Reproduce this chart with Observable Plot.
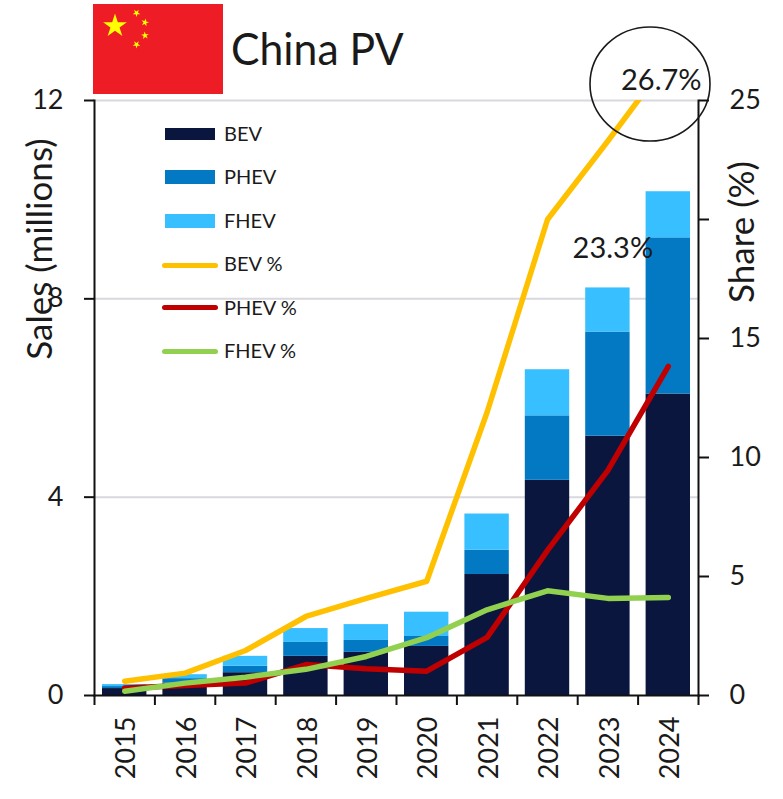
<!DOCTYPE html>
<html>
<head>
<meta charset="utf-8">
<script src="https://cdn.jsdelivr.net/npm/d3@7"></script>
<script src="https://cdn.jsdelivr.net/npm/@observablehq/plot@0.6"></script>
<style>
  html, body { margin: 0; padding: 0; background: #fff; }
  #page { position: relative; width: 783px; height: 799px; overflow: hidden; font-family: Lato, sans-serif; color: #1a1a1a; }
  #page > * { position: absolute; }
  #chart { left: 0; top: 0; }
  #title { left: 231px; top: 20px; font-size: 44px; line-height: 56px; white-space: nowrap; transform: scaleX(0.97); transform-origin: left center; }
  .legend-label { font-size: 20px; line-height: 22px; white-space: nowrap; }
  .swatch { left: 165px; width: 50px; }
  .legend-line { left: 162px; width: 56px; height: 5px; border-radius: 3px; }
</style>
</head>
<body>
<div id="page"></div>
<script>
// Annual passenger-vehicle sales in China (millions) and market share (%)
const years = ["2015", "2016", "2017", "2018", "2019", "2020", "2021", "2022", "2023", "2024"];

const bevSales = [0.14, 0.25, 0.46, 0.79, 0.87, 0.99, 2.44, 4.34, 5.23, 6.08];
const phevSales = [0.04, 0.09, 0.13, 0.28, 0.24, 0.20, 0.49, 1.30, 2.10, 3.15];
const fhevSales = [0.04, 0.08, 0.20, 0.28, 0.32, 0.49, 0.73, 0.93, 0.89, 0.93];

const bevShare = [0.6, 0.94, 1.89, 3.32, 4.08, 4.8, 11.9, 20.0, 23.3, 26.7];
const phevShare = [0.32, 0.42, 0.52, 1.3, 1.12, 1.02, 2.44, 6.1, 9.46, 13.83];
const fhevShare = [0.18, 0.52, 0.77, 1.1, 1.64, 2.43, 3.6, 4.4, 4.08, 4.12];

const salesTicks = [0, 4, 8, 12];
const shareTicks = [0, 5, 10, 15, 20, 25];

const colors = {BEV: "#0b163f", PHEV: "#0279c2", FHEV: "#38bfff", "BEV %": "#ffc000", "PHEV %": "#c00000", "FHEV %": "#92d050"};

// The share axis runs 0-25 against sales 0-12 on the same vertical extent
const shareToSales = (s) => (s * 12) / 25;

const stacked = [
  ...years.map((year, i) => ({year, kind: "BEV", value: bevSales[i]})),
  ...years.map((year, i) => ({year, kind: "PHEV", value: phevSales[i]})),
  ...years.map((year, i) => ({year, kind: "FHEV", value: fhevSales[i]}))
];

const shareLine = (values, color) =>
  Plot.line(years.map((year, i) => ({year, share: values[i]})), {
    x: "year",
    y: (d) => shareToSales(d.share),
    stroke: color,
    strokeWidth: 5.5,
    strokeLinejoin: "round",
    strokeLinecap: "round",
    clip: true
  });

const shareLabel = (year, dx, dy) => {
  const share = bevShare[years.indexOf(year)];
  return Plot.text([{year, share}], {
    x: "year",
    y: (d) => shareToSales(d.share),
    text: (d) => d.share.toFixed(1) + "%",
    dx,
    dy,
    fontSize: 29,
    fill: "#1a1a1a"
  });
};

const halfStep = 30.2;
const axisStyle = {stroke: "#111", strokeWidth: 2};
const tickFont = {fontSize: 27, fill: "#1a1a1a"};

const chart = Plot.plot({
  width: 783,
  height: 799,
  marginLeft: 94,
  marginRight: 85,
  marginTop: 100,
  marginBottom: 104,
  style: {fontFamily: "Lato, sans-serif", background: "transparent"},
  x: {type: "band", domain: years, padding: 0, round: false},
  y: {domain: [0, 12], range: [695, 100]},
  marks: [
    Plot.gridY(salesTicks.slice(1), {stroke: "#d8d8de", strokeOpacity: 1, strokeWidth: 2}),
    Plot.barY(stacked, {
      x: "year",
      y: "value",
      fill: (d) => colors[d.kind],
      insetLeft: 8,
      insetRight: 8,
      order: null
    }),
    shareLine(bevShare, colors["BEV %"]),
    shareLine(phevShare, colors["PHEV %"]),
    shareLine(fhevShare, colors["FHEV %"]),
    Plot.frame({anchor: "left", ...axisStyle}),
    Plot.frame({anchor: "right", ...axisStyle}),
    Plot.frame({anchor: "bottom", ...axisStyle}),
    Plot.axisY(salesTicks, {
      anchor: "left", tickSize: 10, tickPadding: 21, label: null,
      tickFormat: (d) => String(d),
      strokeWidth: 2, stroke: "#111", ...tickFont
    }),
    Plot.axisY(shareTicks.map(shareToSales), {
      anchor: "right", tickSize: 10, tickPadding: 21, label: null,
      tickFormat: (d) => {
        const s = Math.round((d * 25) / 12);
        return s === 20 ? "" : String(s);
      },
      strokeWidth: 2, stroke: "#111", ...tickFont
    }),
    // Category ticks fall on the band edges, labels on the band centres
    Plot.axisX(years, {tickSize: 10, text: null, label: null, dx: -halfStep, strokeWidth: 2, stroke: "#111"}),
    Plot.axisX(years.slice(-1), {tickSize: 10, text: null, label: null, dx: halfStep, strokeWidth: 2, stroke: "#111"}),
    Plot.axisX(years, {tickSize: 0, tickPadding: 21, tickRotate: -90, label: null, dx: 2, ...tickFont}),
    Plot.text(["Sales (millions)"], {
      frameAnchor: "left", textAnchor: "middle", rotate: -90, dx: -54, dy: -149, fontSize: 35, fill: "#1a1a1a"
    }),
    Plot.text(["Share (%)"], {
      frameAnchor: "right", textAnchor: "middle", rotate: -90, dx: 44, dy: -166, fontSize: 35, fill: "#1a1a1a"
    }),
    shareLabel("2023", 5, 108),
    shareLabel("2024", -7, 21)
  ]
});
chart.id = "chart";

const page = document.getElementById("page");
page.appendChild(chart);

// Flag and callout ring sit in a plain overlay above the chart
const starPoints = (cx, cy, r, rot = 0) =>
  d3.range(10).map((k) => {
    const a = -Math.PI / 2 + rot + (k * Math.PI) / 5;
    const rr = k % 2 ? r * 0.382 : r;
    return [cx + rr * Math.cos(a), cy + rr * Math.sin(a)].join(",");
  }).join(" ");

const overlay = d3.create("svg").attr("width", 783).attr("height", 799).style("left", 0).style("top", 0);
overlay.append("rect").attr("x", 93).attr("y", 4).attr("width", 130).attr("height", 90).attr("fill", "#ee1c25");
overlay.append("polygon").attr("points", starPoints(115, 26, 12.5)).attr("fill", "#ffff00");
[[136.5, 13, 0.6], [145, 22.5, 0.25], [145, 35.5, -0.1], [136.5, 44.5, 0.6]].forEach(([x, y, r]) =>
  overlay.append("polygon").attr("points", starPoints(x, y, 4, r)).attr("fill", "#ffff00")
);
overlay.append("ellipse").attr("cx", 650).attr("cy", 84).attr("rx", 60).attr("ry", 57)
  .attr("fill", "none").attr("stroke", "#1a1a1a").attr("stroke-width", 1.6);
page.appendChild(overlay.node());

const title = document.createElement("div");
title.id = "title";
title.textContent = "China PV";
page.appendChild(title);

// Legend: three swatches, three line keys, spaced as a single column
const legendRows = [
  {name: "BEV", y: 128, h: 12, labelY: 133},
  {name: "PHEV", y: 170, h: 14, labelY: 176},
  {name: "FHEV", y: 214, h: 14, labelY: 220},
  {name: "BEV %", y: 263, line: true, labelY: 263},
  {name: "PHEV %", y: 305, line: true, labelY: 307},
  {name: "FHEV %", y: 349, line: true, labelY: 350}
];
legendRows.forEach((row) => {
  const key = document.createElement("div");
  key.className = row.line ? "legend-line" : "swatch";
  key.style.top = row.y + "px";
  if (!row.line) key.style.height = row.h + "px";
  key.style.background = colors[row.name];
  page.appendChild(key);
  const label = document.createElement("div");
  label.className = "legend-label";
  label.style.left = "224px";
  label.style.top = row.labelY - 11 + "px";
  label.textContent = row.name;
  page.appendChild(label);
});
</script>
</body>
</html>
